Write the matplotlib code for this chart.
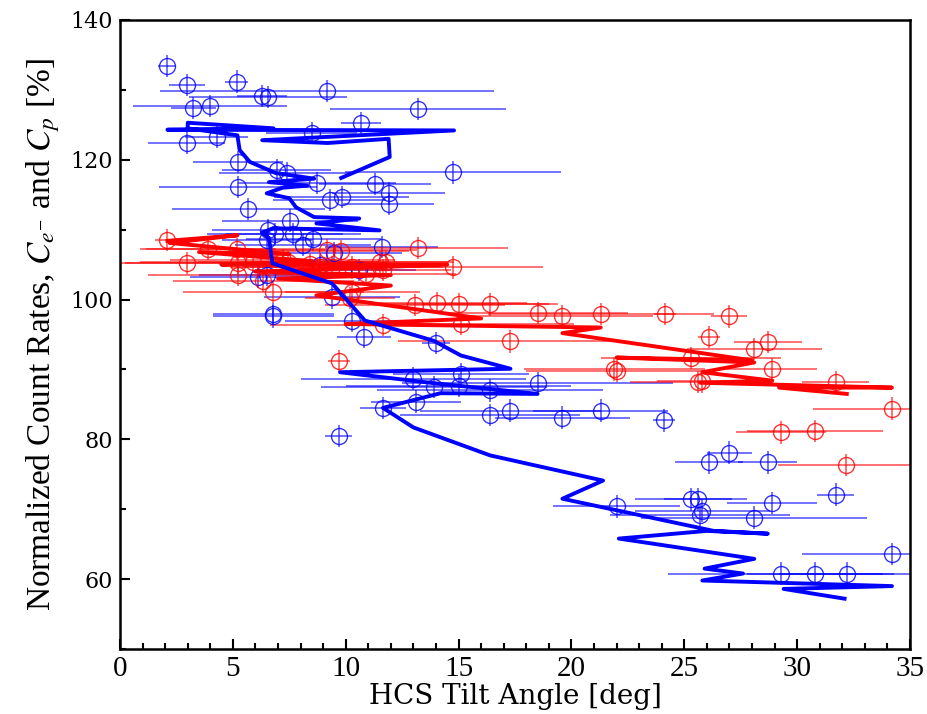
import matplotlib
matplotlib.use('Agg')
import matplotlib.pyplot as plt
from matplotlib.ticker import MultipleLocator

plt.rcParams['mathtext.fontset'] = 'stix'

# ---------------- data ----------------
blue_x = [2.07, 2.95, 5.17, 6.28, 6.56, 9.17, 3.25, 3.99, 13.2, 10.68,
          2.95, 4.28, 8.49, 5.24, 6.94, 7.38, 14.75, 8.71, 5.24, 11.3,
          11.9, 11.9, 9.3, 9.82, 5.69, 7.53, 6.57, 6.87, 7.68, 8.57,
          11.6, 6.5, 8.1, 9.5, 6.1, 6.5, 8.86, 10.6, 9.4, 6.8,
          6.8, 10.3, 10.8, 14.0, 13.0, 13.9, 15.0, 15.1, 16.4, 18.5,
          11.65, 13.1, 16.4, 17.3, 19.6, 21.3, 24.1, 9.7, 26.1, 27.0,
          28.7, 31.7, 22.0, 25.3, 25.6, 25.8, 25.7, 28.9, 28.1, 34.2,
          29.3, 30.8, 32.2]
blue_y = [133.4, 130.7, 131.2, 129.1, 129.0, 129.8, 127.4, 127.7, 127.3, 125.3,
          122.4, 123.3, 123.8, 119.7, 118.5, 118.1, 118.2, 116.7, 116.1, 116.5,
          115.2, 113.7, 114.2, 114.7, 113.0, 111.3, 109.9, 109.4, 109.4, 108.6,
          107.5, 108.5, 107.8, 106.6, 103.2, 103.5, 104.9, 104.2, 100.3, 97.6,
          97.9, 97.0, 94.6, 93.8, 88.7, 87.5, 87.7, 89.3, 87.0, 88.0,
          84.5, 85.4, 83.5, 84.1, 83.1, 84.1, 82.7, 80.5, 76.7, 78.1,
          76.7, 72.1, 70.4, 71.4, 71.4, 69.8, 69.2, 70.9, 68.8, 63.6,
          60.8, 60.8, 60.8]
blue_xerr = [0.4, 0.8, 0.5, 1.1, 3.5, 7.4, 1.0, 3.4, 3.9, 0.9,
             1.7, 1.4, 2.0, 2.0, 2.4, 3.0, 4.8, 3.5, 3.5, 2.5,
             2.5, 2.0, 2.5, 3.0, 3.4, 3.0, 2.5, 3.0, 3.0, 3.0,
             2.5, 2.0, 3.0, 3.0, 3.0, 3.0, 3.0, 2.5, 3.0, 2.7,
             2.7, 3.0, 1.2, 0.6, 5.0, 5.0, 5.0, 3.0, 5.0, 6.0,
             1.0, 2.0, 4.0, 4.0, 3.0, 3.0, 0.5, 0.6, 1.5, 1.0,
             1.3, 0.8, 2.8, 2.5, 1.5, 3.0, 4.0, 2.0, 5.0, 4.0,
             5.0, 3.0, 3.0]

red_x = [2.07, 2.95, 3.9, 5.17, 5.24, 5.9, 6.8, 5.24, 7.2, 9.16,
         9.8, 11.5, 11.8, 11.65, 13.2, 10.2, 8.4, 8.86, 7.45, 14.75,
         9.4, 10.3, 10.9, 6.35, 10.3, 13.07, 14.03, 15.0, 16.4, 18.5,
         19.6, 21.3, 11.66, 15.1, 17.3, 9.7, 21.9, 24.15, 27.0, 26.1,
         28.7, 28.1, 25.3, 22.0, 28.9, 25.8, 25.6, 31.7, 34.2, 29.3,
         30.8, 32.15]
red_y = [108.5, 105.2, 107.2, 107.2, 105.2, 105.4, 101.1, 103.5, 105.6, 107.1,
         106.9, 105.4, 105.4, 104.2, 107.4, 100.2, 105.1, 104.6, 105.4, 104.6,
         104.6, 104.6, 103.7, 102.7, 101.1, 99.2, 99.5, 99.3, 99.3, 98.1,
         97.6, 97.9, 96.4, 96.5, 94.0, 91.2, 90.0, 97.9, 97.6, 94.6,
         93.9, 92.9, 91.6, 89.8, 90.1, 88.3, 88.2, 88.2, 84.4, 81.0,
         81.2, 76.3]
red_xerr = [0.5, 4.0, 3.0, 4.0, 5.0, 5.0, 4.0, 4.0, 5.0, 4.0,
            3.0, 3.0, 3.0, 3.0, 4.0, 2.0, 4.0, 4.0, 4.0, 4.0,
            4.0, 4.0, 4.0, 4.0, 3.0, 4.0, 4.0, 4.0, 3.0, 4.0,
            4.0, 5.0, 5.0, 5.0, 5.0, 0.5, 4.0, 0.5, 0.8, 0.5,
            1.5, 3.0, 4.0, 4.0, 2.0, 2.0, 3.0, 1.5, 3.5, 2.0,
            3.0, 3.0]
y_err = 1.6

blue_line_x = [9.8, 11.95, 11.9, 9.2, 6.3, 14.8, 2.1, 6.8, 3.0, 3.0,
               5.2, 5.3, 5.75, 6.9, 8.6, 6.6, 8.3, 7.2, 6.5, 7.5,
               7.8, 8.6, 10.6, 8.7, 11.5, 6.8, 6.3, 6.6, 6.75, 9.4,
               10.85, 13.9, 15.1, 17.3, 9.75, 14.0, 18.5, 14.2, 11.65, 13.0,
               16.4, 21.4, 19.6, 26.3, 28.7, 26.0, 22.1, 28.1, 25.9, 27.6,
               25.8, 34.2, 29.4, 32.1]
blue_line_y = [117.4, 120.4, 123.0, 122.4, 122.8, 124.2, 124.3, 124.5, 125.3, 124.5,
               123.5, 121.4, 119.7, 118.1, 117.3, 116.8, 116.3, 116.0, 115.2, 114.5,
               113.2, 111.8, 111.6, 110.9, 109.9, 110.2, 109.6, 108.8, 105.2, 102.3,
               97.0, 94.1, 92.0, 90.1, 89.6, 88.0, 86.5, 86.6, 84.5, 81.7,
               77.7, 74.1, 71.5, 66.9, 66.5, 66.9, 65.8, 62.9, 61.5, 60.8,
               59.8, 59.0, 58.6, 57.2]

red_line_x = [2.1, 5.2, 2.2, 7.5, 3.5, 8.5, 4.5, 14.5, 6.0, 12.0,
              7.0, 12.0, 8.7, 16.0, 10.0, 21.3, 19.6, 28.0, 22.0, 28.1,
              25.8, 28.9, 25.7, 34.2, 29.2, 32.2]
red_line_y = [108.4, 109.2, 108.1, 106.5, 106.8, 105.5, 105.0, 105.0, 104.0, 103.5,
              103.0, 102.0, 100.6, 97.3, 96.5, 96.0, 95.2, 91.3, 91.7, 91.0,
              89.6, 88.4, 88.1, 87.4, 87.4, 86.5]

x_ticks = [0, 5, 10, 15, 20, 25, 30, 35]
y_ticks = [60, 80, 100, 120, 140]

# ---------------- figure ----------------
fig = plt.figure(figsize=(9.28, 7.14), dpi=100)
ax = fig.add_axes([120 / 928, 1 - 649 / 714, 790 / 928, 629 / 714])

BLUE = (0, 0, 1)
RED = (1, 0, 0)

def draw_points(x, y, xerr, col):
    ax.errorbar(x, y, xerr=xerr, yerr=y_err, fmt='none', ecolor=col,
                elinewidth=1.1, capsize=0, alpha=0.7, zorder=2)
    ax.plot(x, y, 'o', ms=11.5, mfc='none', mec=col, mew=1.0, alpha=0.8, zorder=3)

draw_points(blue_x, blue_y, blue_xerr, BLUE)
draw_points(red_x, red_y, red_xerr, RED)
ax.plot(red_line_x, red_line_y, '-', color=RED, lw=2.8, zorder=4)
ax.plot(blue_line_x, blue_line_y, '-', color=BLUE, lw=2.8, zorder=5)

ax.set_xlim(0, 35)
ax.set_ylim(50, 140)
ax.set_xticks(x_ticks)
ax.set_yticks(y_ticks)
ax.xaxis.set_minor_locator(MultipleLocator(1))
ax.yaxis.set_minor_locator(MultipleLocator(10))
ax.tick_params(which='both', direction='in', top=False, right=False, width=1.5)
ax.tick_params(which='major', length=7)
ax.tick_params(which='minor', length=4)
for s in ax.spines.values():
    s.set_linewidth(1.8)

for lab in ax.get_xticklabels():
    lab.set_fontfamily('Liberation Serif')
    lab.set_fontsize(21)
for lab in ax.get_yticklabels():
    lab.set_fontfamily('DejaVu Serif')
    lab.set_fontsize(16)
ax.tick_params(axis='x', pad=5)
ax.tick_params(axis='y', pad=5)

ax.set_xlabel('HCS Tilt Angle [deg]', fontfamily='DejaVu Serif', fontsize=20, labelpad=1)
ax.set_ylabel(r'Normalized Count Rates, $C_{e^{-}}$ and $C_p$ [%]',
              fontfamily='Liberation Serif', fontsize=24, labelpad=6)

fig.savefig('out.png', dpi=100)
